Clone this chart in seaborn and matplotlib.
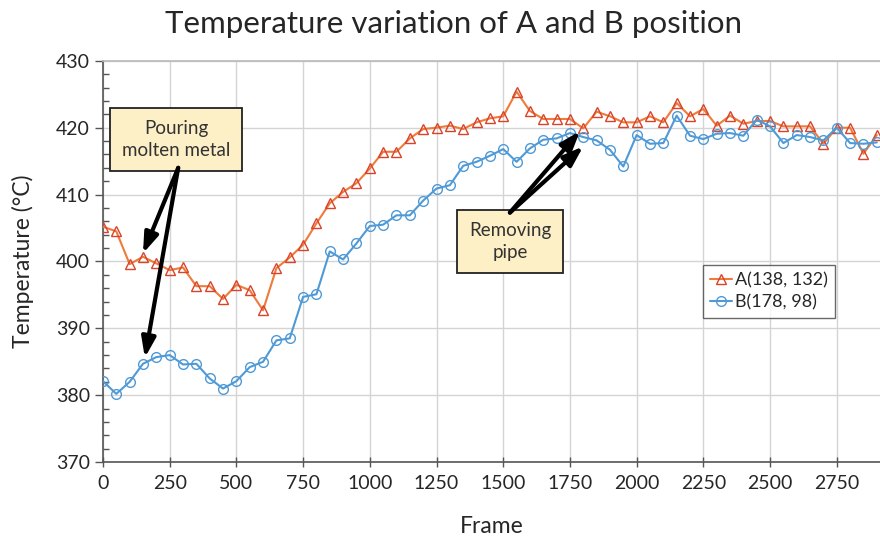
import numpy as np
import pandas as pd
import matplotlib
matplotlib.use('Agg')
import matplotlib.pyplot as plt
import seaborn as sns
from matplotlib.ticker import MultipleLocator

##################################################################
frames = list(range(0, 2901, 50))

temp_a = [405.2, 404.5, 399.6, 400.7, 399.7, 398.7, 399.1, 396.3, 396.3, 394.4,
          396.5, 395.7, 392.7, 399.0, 400.6, 402.5, 405.7, 408.7, 410.4, 411.7,
          413.9, 416.4, 416.4, 418.4, 419.8, 420.0, 420.3, 419.8, 420.8, 421.4,
          421.7, 425.4, 422.5, 421.3, 421.3, 421.3, 419.9, 422.4, 421.7, 420.8,
          420.8, 421.7, 420.8, 423.7, 421.7, 422.8, 420.3, 421.8, 420.6, 421.0,
          421.0, 420.2, 420.2, 420.2, 417.6, 420.0, 420.0, 416.1, 418.9]

temp_b = [382.1, 380.2, 382.0, 384.7, 385.7, 386.0, 384.6, 384.7, 382.5, 381.0,
          382.1, 384.2, 385.0, 388.2, 388.5, 394.7, 395.1, 401.5, 400.3, 402.7,
          405.3, 405.5, 406.9, 406.9, 409.1, 410.9, 411.4, 414.3, 414.9, 415.8,
          416.8, 414.9, 416.9, 418.2, 418.4, 419.2, 418.6, 418.1, 416.7, 414.2,
          418.9, 417.6, 417.7, 421.8, 418.8, 418.3, 419.1, 419.2, 418.8, 421.2,
          420.2, 417.7, 418.9, 418.6, 418.1, 420.0, 417.7, 417.6, 417.8]

label_a = 'A(138, 132)'
label_b = 'B(178, 98)'
x_ticks = list(range(0, 2751, 250))
y_ticks = list(range(370, 431, 10))
##################################################################

sns.set_theme(style='whitegrid')
plt.rcParams['font.family'] = ['Lato', 'DejaVu Sans']

df = pd.DataFrame({'Frame': frames, 'A': temp_a, 'B': temp_b})

fig = plt.figure(figsize=(8.8, 5.43), dpi=100)
ax = fig.add_axes([0.117, 0.149, 0.883, 0.739])

col_a_line, col_a_mk = '#f07a3a', '#d9432a'
col_b_line, col_b_mk = '#4f9ad6', '#4f9ad6'

sns.lineplot(data=df, x='Frame', y='A', ax=ax, color=col_a_line, lw=1.5,
             marker='^', ms=7, markerfacecolor='none', markeredgecolor=col_a_mk,
             markeredgewidth=1.0, label=label_a, zorder=3)
sns.lineplot(data=df, x='Frame', y='B', ax=ax, color=col_b_line, lw=1.5,
             marker='o', ms=7, markerfacecolor='none', markeredgecolor=col_b_mk,
             markeredgewidth=1.0, label=label_b, zorder=3)

ax.set_xlim(0, 2912)
ax.set_ylim(370, 430)
ax.set_xticks(x_ticks)
ax.set_yticks(y_ticks)
ax.yaxis.set_minor_locator(MultipleLocator(2))
ax.grid(True, which='major', color='#d4d4d4', lw=1.0)
ax.grid(False, which='minor')

ax.tick_params(axis='x', which='major', direction='inout', length=7, width=1,
               color='#555555', labelsize=14, pad=6, bottom=True)
ax.tick_params(axis='y', which='major', direction='out', length=6, width=1,
               color='#555555', labelsize=14, left=True)
ax.tick_params(axis='y', which='minor', direction='in', length=4, width=1,
               color='#555555', left=True)

for side in ['left', 'bottom']:
    ax.spines[side].set_color('#555555')
    ax.spines[side].set_linewidth(1.2)
ax.spines['top'].set_color('#bbbbbb')
ax.spines['right'].set_visible(False)

ax.set_xlabel('Frame', fontsize=16.5)
ax.set_ylabel('Temperature (°C)', fontsize=16.5)
ax.xaxis.set_label_coords(0.5, -0.135)
ax.yaxis.set_label_coords(-0.089, 0.5)
fig.text(0.515, 0.955, 'Temperature variation of A and B position',
         ha='center', va='center', fontsize=22.5)

leg = ax.legend(loc='upper left', bbox_to_anchor=(0.772, 0.49), fontsize=13,
                frameon=True, fancybox=False, handlelength=1.2,
                handletextpad=0.2, borderpad=0.4, labelspacing=0.3,
                borderaxespad=0)
leg.get_frame().set_edgecolor('#444444')
leg.get_frame().set_linewidth(1.0)

# annotations
box = dict(boxstyle='square,pad=0.65', fc='#fdefc6', ec='#222222', lw=1.3)
arrow = dict(arrowstyle='-|>,head_length=1.0,head_width=0.35', color='black', lw=3,
             shrinkA=0, shrinkB=0)
ax.text(274, 418.2, 'Pouring\nmolten metal', ha='center', va='center',
        fontsize=13.5, color='#333333', bbox=box, zorder=5, linespacing=1.35)
ax.annotate('', xy=(150, 401.2), xytext=(282, 414.0), arrowprops=arrow, zorder=6)
ax.annotate('', xy=(157, 385.6), xytext=(282, 414.0), arrowprops=arrow, zorder=6)

ax.text(1526, 403.0, 'Removing\npipe', ha='center', va='center',
        fontsize=13.5, color='#333333', bbox=box, zorder=5, linespacing=1.35)
ax.annotate('', xy=(1788, 419.5), xytext=(1525, 407.3), arrowprops=arrow, zorder=6)
ax.annotate('', xy=(1800, 417.2), xytext=(1525, 407.3), arrowprops=arrow, zorder=6)

fig.savefig('out.png', dpi=100)
